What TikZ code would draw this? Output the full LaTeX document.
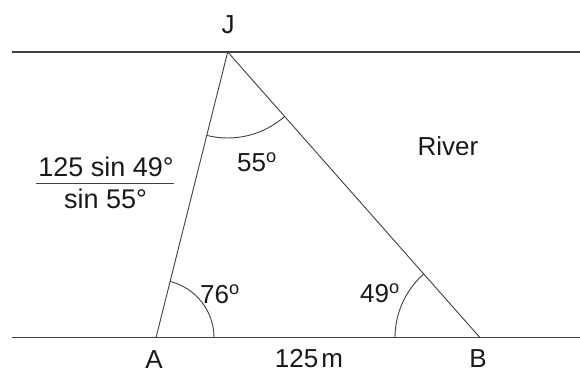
\documentclass[tikz,border=0pt]{standalone}
\usepackage{fontspec}
\setmainfont{Liberation Sans}
\begin{document}
\begin{tikzpicture}[x=1pt,y=1pt,
  ln/.style={line width=1.1pt,draw=black!75},
  thin/.style={line width=0.9pt,draw=black!75},
  lbl/.style={inner sep=0pt,font=\fontsize{26}{30}\selectfont,text=black!90},
  frac/.style={inner sep=0pt,font=\fontsize{27}{31}\selectfont,text=black!90}]
\useasboundingbox (0,0) rectangle (580,374);
% vertices
\coordinate (A) at (156,36.3);
\coordinate (B) at (480,36.3);
\coordinate (J) at (227.7,322);
\coordinate (TL) at (12,322);
\coordinate (TR) at (580,322);
\coordinate (BL) at (12,36.3);
\coordinate (BR) at (580,36.3);
% river banks
\draw[ln] (TL) -- (TR);
\draw[ln] (BL) -- (BR);
% triangle sides
\draw[thin] (A) -- (J);
\draw[thin] (J) -- (B);
% angle arcs
\draw[thin] ([shift={(0:58pt)}]A) arc[start angle=0,end angle=75.9,radius=58pt];
\draw[thin] ([shift={(180:85pt)}]B) arc[start angle=180,end angle=131.4,radius=85pt];
\draw[thin] ([shift={(-104.1:86pt)}]J) arc[start angle=-104.1,end angle=-48.6,radius=86pt];
% labels
\node[lbl] (lJ) at (228,349) {J};
\node[lbl] (lA) at (154,14) {A};
\node[lbl] (lB) at (478,15) {B};
\node[lbl] (lAB) at (309,15) {125\hspace{0.12em}m};
\node[lbl] (lRiver) at (448,227.5) {River};
\node[lbl] (l55) at (257,212) {55\textsuperscript{o}};
\node[lbl] (l76) at (220,80) {76\textsuperscript{o}};
\node[lbl] (l49) at (380,81) {49\textsuperscript{o}};
\node[frac] (num) at (106,207) {125 sin 49°};
\node[frac] (den) at (105.5,175) {sin 55°};
\coordinate (fl) at (36,190.7);
\coordinate (fr) at (174,190.7);
\draw[thin] (fl) -- (fr);
\end{tikzpicture}
\end{document}
